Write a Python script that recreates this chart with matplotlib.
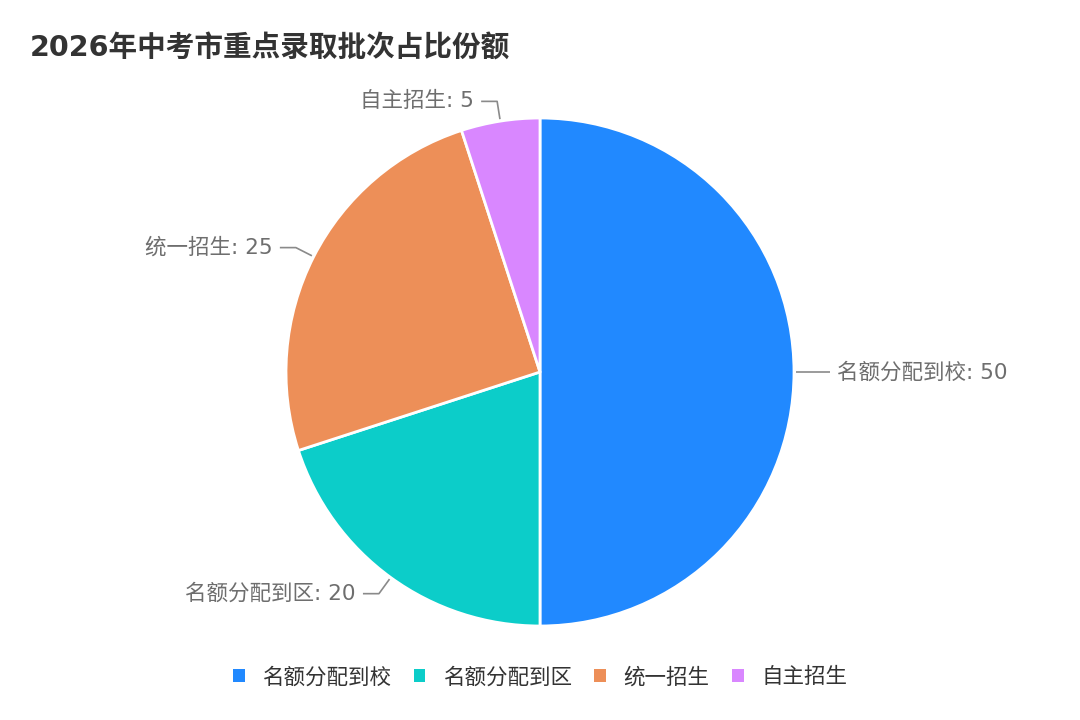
import numpy as np
import matplotlib
matplotlib.use("Agg")
import matplotlib.pyplot as plt
from matplotlib.patches import Patch

plt.rcParams['font.family'] = ['DejaVu Sans', 'Noto Sans CJK SC']

title = "2026年中考市重点录取批次占比份额"
categories = ["名额分配到校", "名额分配到区", "统一招生", "自主招生"]
values = [50, 20, 25, 5]
colors = ["#2189FF", "#0CCDC9", "#ED8F58", "#D987FF"]

W, H = 1080, 720
fig = plt.figure(figsize=(W / 100, H / 100), dpi=100)
ax = fig.add_axes([0, 0, 1, 1])

cx, cy, R = 540, H - 372, 254
wedges, _ = ax.pie(values, colors=colors, startangle=90, counterclock=False,
                   center=(cx, cy), radius=R, frame=True,
                   wedgeprops=dict(edgecolor='white', linewidth=2, joinstyle='round'))
ax.set_xlim(0, W)
ax.set_ylim(0, H)
ax.set_aspect('equal')
ax.axis('off')

len1, len2, gap = 20, 16, 7
for w, cat, v in zip(wedges, categories, values):
    ang = np.deg2rad((w.theta1 + w.theta2) / 2)
    dx, dy = np.cos(ang), np.sin(ang)
    x0, y0 = cx + (R + 2) * dx, cy + (R + 2) * dy
    x1, y1 = cx + (R + len1) * dx, cy + (R + len1) * dy
    side = 1 if dx >= 0 else -1
    x2 = x1 + side * len2
    ax.plot([x0, x1, x2], [y0, y1, y1], color='#8a8a8a', lw=1.2, solid_capstyle='butt')
    ax.text(x2 + side * gap, y1, f"{cat}: {v}", ha='left' if side > 0 else 'right',
            va='center', fontsize=15.5, color='#6e6e6e')

fig.text(30 / W, 1 - 48 / H, title, fontsize=20.6, fontweight='bold', color='#333333',
         ha='left', va='center')

handles = [Patch(facecolor=c, edgecolor='none') for c in colors]
leg = fig.legend(handles, categories, loc='center', bbox_to_anchor=(0.5, 1 - 677 / H),
                 ncol=4, frameon=False, fontsize=15.5, handlelength=0.55, handleheight=0.55,
                 handletextpad=0.8, columnspacing=1.05)
for t in leg.get_texts():
    t.set_color('#333333')

fig.savefig("out.png", dpi=100, facecolor='white')
